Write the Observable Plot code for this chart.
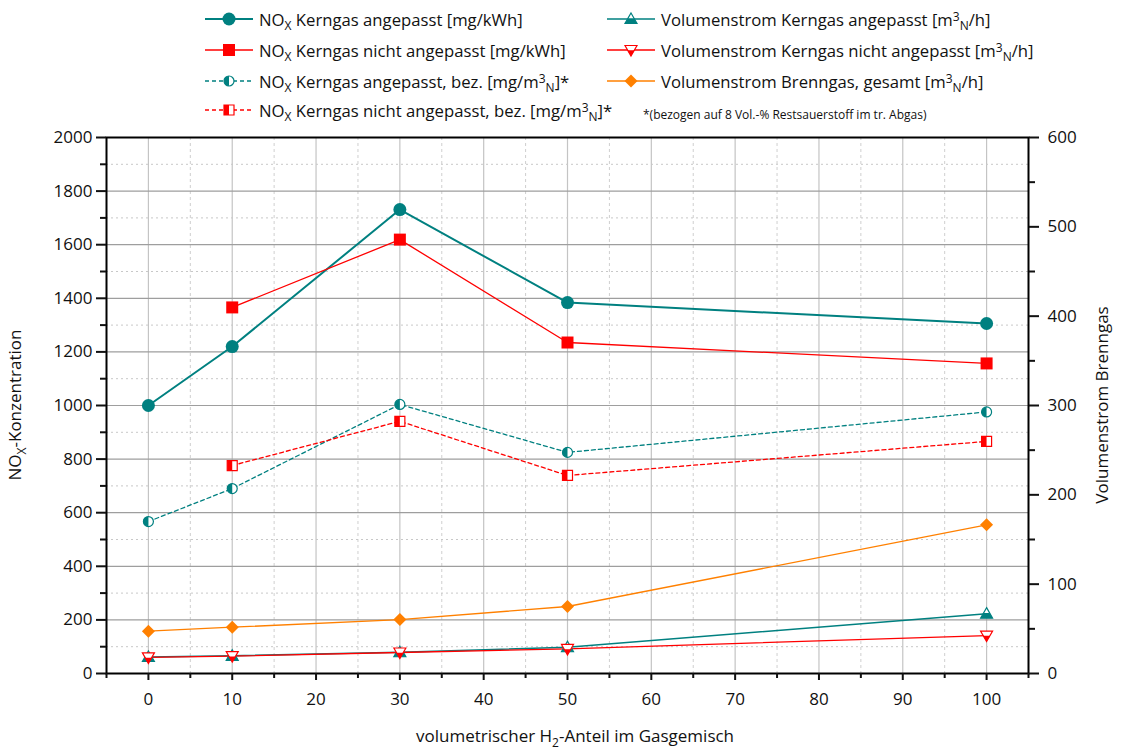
<!DOCTYPE html>
<html>
<head>
<meta charset="utf-8">
<script src="https://cdn.jsdelivr.net/npm/d3@7"></script>
<script src="https://cdn.jsdelivr.net/npm/@observablehq/plot@0.6"></script>
<style>
  body { margin: 0; background: #fff; font-family: "Open Sans", sans-serif; color: #111; }
  #legend { position: relative; width: 1126px; height: 116px; }
  .item { position: absolute; display: flex; align-items: center; height: 24px; font-size: 16.7px; white-space: nowrap; }
  .item svg { display: block; margin-right: 5px; }
  .item sub { font-size: 0.72em; vertical-align: -0.35em; line-height: 0; }
  .item sup { font-size: 0.72em; vertical-align: 0.45em; line-height: 0; }
  .note { position: absolute; font-size: 12px; white-space: nowrap; }
</style>
</head>
<body>
<div id="legend"></div>
<div id="chart"></div>
<script>
// H2 share in the gas mixture (vol.-%)
const h2Share = [0, 10, 30, 50, 100];

// NOx concentrations (left axis)
const noxAdjusted       = [1000, 1220, 1731, 1384, 1306];   // mg/kWh
const noxNotAdjusted    = [null, 1366, 1619, 1235, 1157];   // mg/kWh
const noxAdjustedRef    = [567, 690, 1004, 825, 976];       // mg/m³N, 8 % O2
const noxNotAdjustedRef = [null, 776, 941, 739, 866];       // mg/m³N, 8 % O2

// Volume flows (right axis, m³N/h)
const flowAdjusted    = [18.5, 19.8, 23.8, 29.4, 67];
const flowNotAdjusted = [18, 19.5, 23.5, 27.5, 42.5];
const flowTotal       = [47.4, 51.8, 60.4, 75, 166.4];

// Axis ticks
const xTicks = d3.range(0, 101, 10);
const xMinor = d3.range(-5, 106, 10);
const yLeftTicks = d3.range(0, 2001, 200);
const yLeftMinor = d3.range(100, 2000, 200);
const yRightTicks = d3.range(0, 601, 100);
const yRightMinor = d3.range(50, 600, 100);

const k = 2000 / 600; // right axis → left axis units
const teal = "#008080", red = "#ff0000", orange = "#ff8000";

// custom marker shapes; Plot passes size = r²·π
const sym = f => ({ draw(c, size) { f(c, Math.sqrt(size / Math.PI)); } });
const square     = sym((c, h) => { c.moveTo(-h, -h); c.lineTo(h, -h); c.lineTo(h, h); c.lineTo(-h, h); c.closePath(); });
const squareLeft = sym((c, h) => { c.moveTo(-h, -h); c.lineTo(0, -h); c.lineTo(0, h); c.lineTo(-h, h); c.closePath(); });
const circle     = sym((c, h) => { c.moveTo(h, 0); c.arc(0, 0, h, 0, 2 * Math.PI); c.closePath(); });
const circleLeft = sym((c, h) => { c.moveTo(0, -h); c.arc(0, 0, h, -Math.PI / 2, Math.PI / 2, true); c.closePath(); });
const triUp      = sym((c, h) => { c.moveTo(0, -h); c.lineTo(h, 0.75 * h); c.lineTo(-h, 0.75 * h); c.closePath(); });
const triUpLow   = sym((c, h) => { c.moveTo(-0.5 * h, -0.125 * h); c.lineTo(0.5 * h, -0.125 * h); c.lineTo(h, 0.75 * h); c.lineTo(-h, 0.75 * h); c.closePath(); });
const triDown    = sym((c, h) => { c.moveTo(0, h); c.lineTo(h, -0.75 * h); c.lineTo(-h, -0.75 * h); c.closePath(); });
const triDownLow = sym((c, h) => { c.moveTo(-0.6 * h, 0.05 * h); c.lineTo(0.6 * h, 0.05 * h); c.lineTo(0, h); c.closePath(); });
const diamond    = sym((c, h) => { c.moveTo(0, -h); c.lineTo(h, 0); c.lineTo(0, h); c.lineTo(-h, 0); c.closePath(); });

// series definitions: marker = list of layers [shape, fill, stroke]
const series = [
  { values: noxAdjusted, scale: 1, color: teal, width: 2, dash: null, r: 6.5,
    layers: [[circle, teal, "none"]],
    label: 'NO<sub>X</sub> Kerngas angepasst [mg/kWh]' },
  { values: noxNotAdjusted, scale: 1, color: red, width: 1.3, dash: null, r: 6,
    layers: [[square, red, "none"]],
    label: 'NO<sub>X</sub> Kerngas nicht angepasst [mg/kWh]' },
  { values: noxAdjustedRef, scale: 1, color: teal, width: 1.3, dash: "4,3", r: 5,
    layers: [[circle, "white", teal], [circleLeft, teal, "none"]],
    label: 'NO<sub>X</sub> Kerngas angepasst, bez. [mg/m<sup>3</sup><sub>N</sub>]*' },
  { values: noxNotAdjustedRef, scale: 1, color: red, width: 1.3, dash: "4,3", r: 5,
    layers: [[square, "white", red], [squareLeft, red, "none"]],
    label: 'NO<sub>X</sub> Kerngas nicht angepasst, bez. [mg/m<sup>3</sup><sub>N</sub>]*' },
  { values: flowAdjusted, scale: k, color: teal, width: 1.5, dash: null, r: 6,
    layers: [[triUp, "white", teal], [triUpLow, teal, "none"]],
    label: 'Volumenstrom Kerngas angepasst [m<sup>3</sup><sub>N</sub>/h]' },
  { values: flowNotAdjusted, scale: k, color: red, width: 1.3, dash: null, r: 6,
    layers: [[triDown, "white", red], [triDownLow, red, "none"]],
    label: 'Volumenstrom Kerngas nicht angepasst [m<sup>3</sup><sub>N</sub>/h]' },
  { values: flowTotal, scale: k, color: orange, width: 1.3, dash: null, r: 6.5,
    layers: [[diamond, orange, "none"]],
    label: 'Volumenstrom Brenngas, gesamt [m<sup>3</sup><sub>N</sub>/h]' }
];

const rowsOf = s => h2Share.map((x, i) => ({ x, y: s.values[i] == null ? null : s.values[i] * s.scale }))
                           .filter(d => d.y != null);

const marks = [
  Plot.gridX(xMinor.filter(v => v > 0 && v < 100), { stroke: "#cfcfcf", strokeOpacity: 1, strokeDasharray: "3,3" }),
  Plot.gridX(xTicks, { stroke: "#c4c4c4", strokeOpacity: 1, strokeWidth: 1.2 }),
  Plot.gridY(yLeftMinor, { stroke: "#c8c8c8", strokeOpacity: 1, strokeDasharray: "2,3" }),
  Plot.gridY(yLeftTicks.filter(v => v > 0 && v < 2000), { stroke: "#9e9e9e", strokeOpacity: 1, strokeWidth: 1.2 })
];

for (const s of series) {
  const data = rowsOf(s);
  marks.push(Plot.line(data, { x: "x", y: "y", stroke: s.color, strokeWidth: s.width, strokeDasharray: s.dash }));
}
for (const s of series) {
  const data = rowsOf(s);
  for (const [shape, fill, stroke] of s.layers) {
    marks.push(Plot.dot(data, { x: "x", y: "y", symbol: shape, r: s.r, fill, stroke, strokeWidth: 1.2 }));
  }
}

marks.push(
  Plot.frame({ stroke: "black", strokeWidth: 2 }),
  Plot.axisY(yLeftTicks, { anchor: "left", tickSize: 10, tickPadding: 4, strokeWidth: 2, fontSize: 17, label: null, tickFormat: d => String(d), color: "#111" }),
  Plot.axisY(yLeftMinor, { anchor: "left", tickSize: 6, strokeWidth: 2, tickFormat: () => "", label: null }),
  Plot.axisY(yRightTicks.map(v => v * k), { anchor: "right", tickSize: 10, tickPadding: 9, strokeWidth: 2, fontSize: 17, label: null, tickFormat: d => String(Math.round(d / k)), color: "#111" }),
  Plot.axisY(yRightMinor.map(v => v * k), { anchor: "right", tickSize: 6, strokeWidth: 2, tickFormat: () => "", label: null }),
  Plot.axisX(xTicks, { anchor: "bottom", tickSize: 7, tickPadding: 12, strokeWidth: 2, fontSize: 17, label: null, tickFormat: d => String(d), color: "#111" }),
  Plot.axisX(xMinor, { anchor: "bottom", tickSize: 5, strokeWidth: 2, tickFormat: () => "", label: null })
);

const top0 = 116; // page offset of the chart svg
const chart = Plot.plot({
  width: 1126,
  height: 755 - top0,
  marginTop: 137 - top0,
  marginBottom: 82,
  marginLeft: 106,
  marginRight: 98,
  style: { fontFamily: "Open Sans, sans-serif", fontSize: "17px", color: "#111", background: "transparent", overflow: "visible" },
  x: { domain: [-5, 105] },
  y: { domain: [0, 2000] },
  marks
});
document.getElementById("chart").appendChild(chart);

// axis titles (with sub-/superscripts)
const svg = d3.select(chart);
const midY = (137 + 673) / 2 - top0;
function title(x, y, rot, parts) {
  const t = svg.append("text")
    .attr("transform", `translate(${x},${y}) rotate(${rot})`)
    .attr("text-anchor", "middle").attr("font-size", 17).attr("fill", "#111")
    .attr("font-family", "Open Sans, sans-serif");
  for (const [txt, sub] of parts) {
    t.append("tspan").attr("dy", sub ? 5 : (t.node().childNodes.length ? -5 : 0))
      .attr("font-size", sub ? 12 : 17).text(txt);
  }
}
title(26, midY, -90, [["NO", false], ["X", true], ["-Konzentration", false]]);
title(1113, midY, -90, [["Volumenstrom Brenngas", false]]);
title(575, 747 - top0, 0, [["volumetrischer H", false], ["2", true], ["-Anteil im Gasgemisch", false]]);

// legend
const legend = d3.select("#legend");
const slots = [[204, 7], [204, 38], [204, 69], [204, 98], [606, 7], [606, 38], [606, 69]];
series.forEach((s, i) => {
  const [lx, ly] = slots[i];
  const item = legend.append("div").attr("class", "item").style("left", lx + "px").style("top", ly + "px");
  const g = item.append("svg").attr("width", 50).attr("height", 24);
  g.append("line").attr("x1", 1).attr("x2", 49).attr("y1", 12).attr("y2", 12)
    .attr("stroke", s.color).attr("stroke-width", s.width).attr("stroke-dasharray", s.dash);
  for (const [shape, fill, stroke] of s.layers) {
    const p = d3.path();
    shape.draw(p, s.r * s.r * Math.PI);
    g.append("path").attr("d", p.toString()).attr("transform", "translate(25,12)")
      .attr("fill", fill).attr("stroke", stroke).attr("stroke-width", 1.2);
  }
  item.append("span").html(s.label);
});
legend.append("div").attr("class", "note").style("left", "643px").style("top", "106px")
  .text("*(bezogen auf 8 Vol.-% Restsauerstoff im tr. Abgas)");
</script>
</body>
</html>
